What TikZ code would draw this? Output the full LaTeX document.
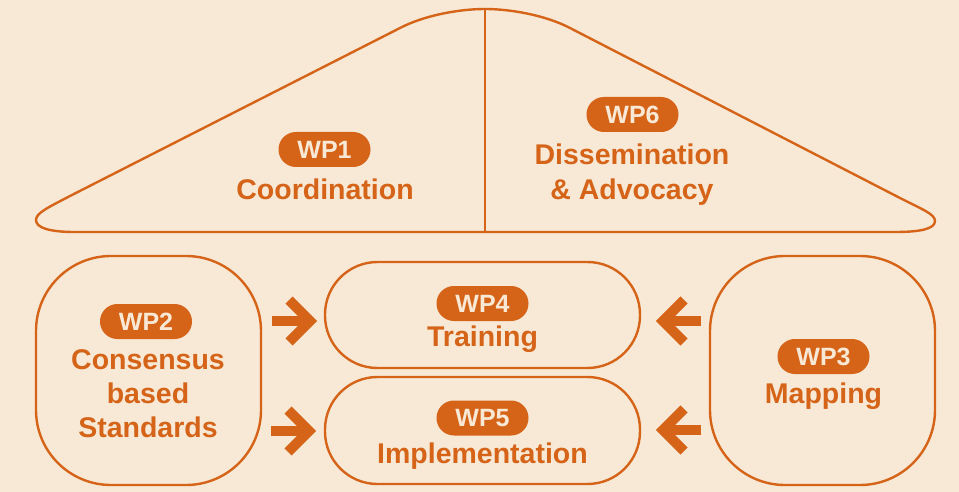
\documentclass[tikz,border=0pt]{standalone}
\usepackage{fontspec}
\setmainfont{Liberation Sans}
\usetikzlibrary{calc}
\definecolor{bg}{HTML}{F8E9D6}
\definecolor{org}{HTML}{D56419}
\begin{document}
\begin{tikzpicture}[x=1pt,y=-1pt,
  outline/.style={draw=org, line width=2.4pt},
  badge/.style={fill=org, text=bg, rounded corners=17.4pt, minimum width=92pt, minimum height=35pt, inner sep=0pt, font=\bfseries\fontsize{25}{30}\selectfont},
  wplabel/.style={text=org, font=\bfseries\fontsize{28.5}{34}\selectfont, anchor=base, inner sep=0pt},
  squarebox/.style={outline, rounded corners=75pt, minimum width=225pt, minimum height=229pt, inner sep=0pt},
  pillbox/.style={outline, rounded corners=52.5pt, minimum width=315pt, minimum height=106pt, inner sep=0pt},
  shaft/.style={draw=org, line width=10pt},
  chevron/.style={draw=org, line width=10pt, line join=miter, miter limit=10}
]
\fill[bg] (0,0) rectangle (959,492);
\useasboundingbox (0,0) rectangle (959,492);

% roof
\coordinate (apex) at (485,9);
\coordinate (floor) at (485,232);
\draw[outline, line join=round] (75,232) -- (895,232)
  .. controls (920,232) and (935,229) .. (935,221)
  .. controls (935,214) and (922,209.3) .. (900,198)
  -- (570,28)
  .. controls (545,15) and (510,9) .. (apex)
  .. controls (460,9) and (425,15) .. (400,28)
  -- (70,196)
  .. controls (48,207.5) and (36,213) .. (36,220)
  .. controls (36,228) and (50,232) .. (75,232) -- cycle;
\draw[outline] (apex) -- (floor);

% WP1
\node[badge] (wp1) at (324.5,149.5) {WP1};
\node[wplabel] (wp1t) at (325,200) {Coordination};
% WP6
\node[badge] (wp6) at (632.5,114.5) {WP6};
\node[wplabel] (wp6t1) at (632,165) {Dissemination};
\node[wplabel] (wp6t2) at (632,200) {\&~Advocacy};

% bottom boxes
\node[squarebox] (box2) at (148.5,370.5) {};
\node[pillbox] (box4) at (482.5,315) {};
\node[pillbox, minimum height=107pt] (box5) at (482.5,430.5) {};
\node[squarebox] (box3) at (822.5,370.5) {};

% WP2
\node[badge] (wp2) at (146,321.5) {WP2};
\node[wplabel] (wp2t1) at (148,369) {Consensus};
\node[wplabel] (wp2t2) at (148,403) {based};
\node[wplabel] (wp2t3) at (148,437) {Standards};
% WP4
\node[badge] (wp4) at (482.5,303.5) {WP4};
\node[wplabel] (wp4t) at (482.5,346) {Training};
% WP5
\node[badge] (wp5) at (482.5,418) {WP5};
\node[wplabel] (wp5t) at (482.5,463) {Implementation};
% WP3
\node[badge] (wp3) at (823.5,356.5) {WP3};
\node[wplabel] (wp3t) at (823.5,403) {Mapping};

% arrows
\coordinate (r1tail) at (272,321);
\coordinate (r1tip) at (310,321);
\coordinate (r2tail) at (271,431);
\coordinate (r2tip) at (309,431);
\coordinate (l1tail) at (701,321);
\coordinate (l1tip) at (663,321);
\coordinate (l2tail) at (701,430);
\coordinate (l2tip) at (663,430);
\draw[shaft] (r1tail) -- (r1tip);
\draw[chevron] ($(r1tip)+(-21,-21)$) -- (r1tip) -- ($(r1tip)+(-21,21)$);
\draw[shaft] (r2tail) -- (r2tip);
\draw[chevron] ($(r2tip)+(-21,-21)$) -- (r2tip) -- ($(r2tip)+(-21,21)$);
\draw[shaft] (l1tail) -- (l1tip);
\draw[chevron] ($(l1tip)+(21,-21)$) -- (l1tip) -- ($(l1tip)+(21,21)$);
\draw[shaft] (l2tail) -- (l2tip);
\draw[chevron] ($(l2tip)+(21,-21)$) -- (l2tip) -- ($(l2tip)+(21,21)$);
\end{tikzpicture}
\end{document}
